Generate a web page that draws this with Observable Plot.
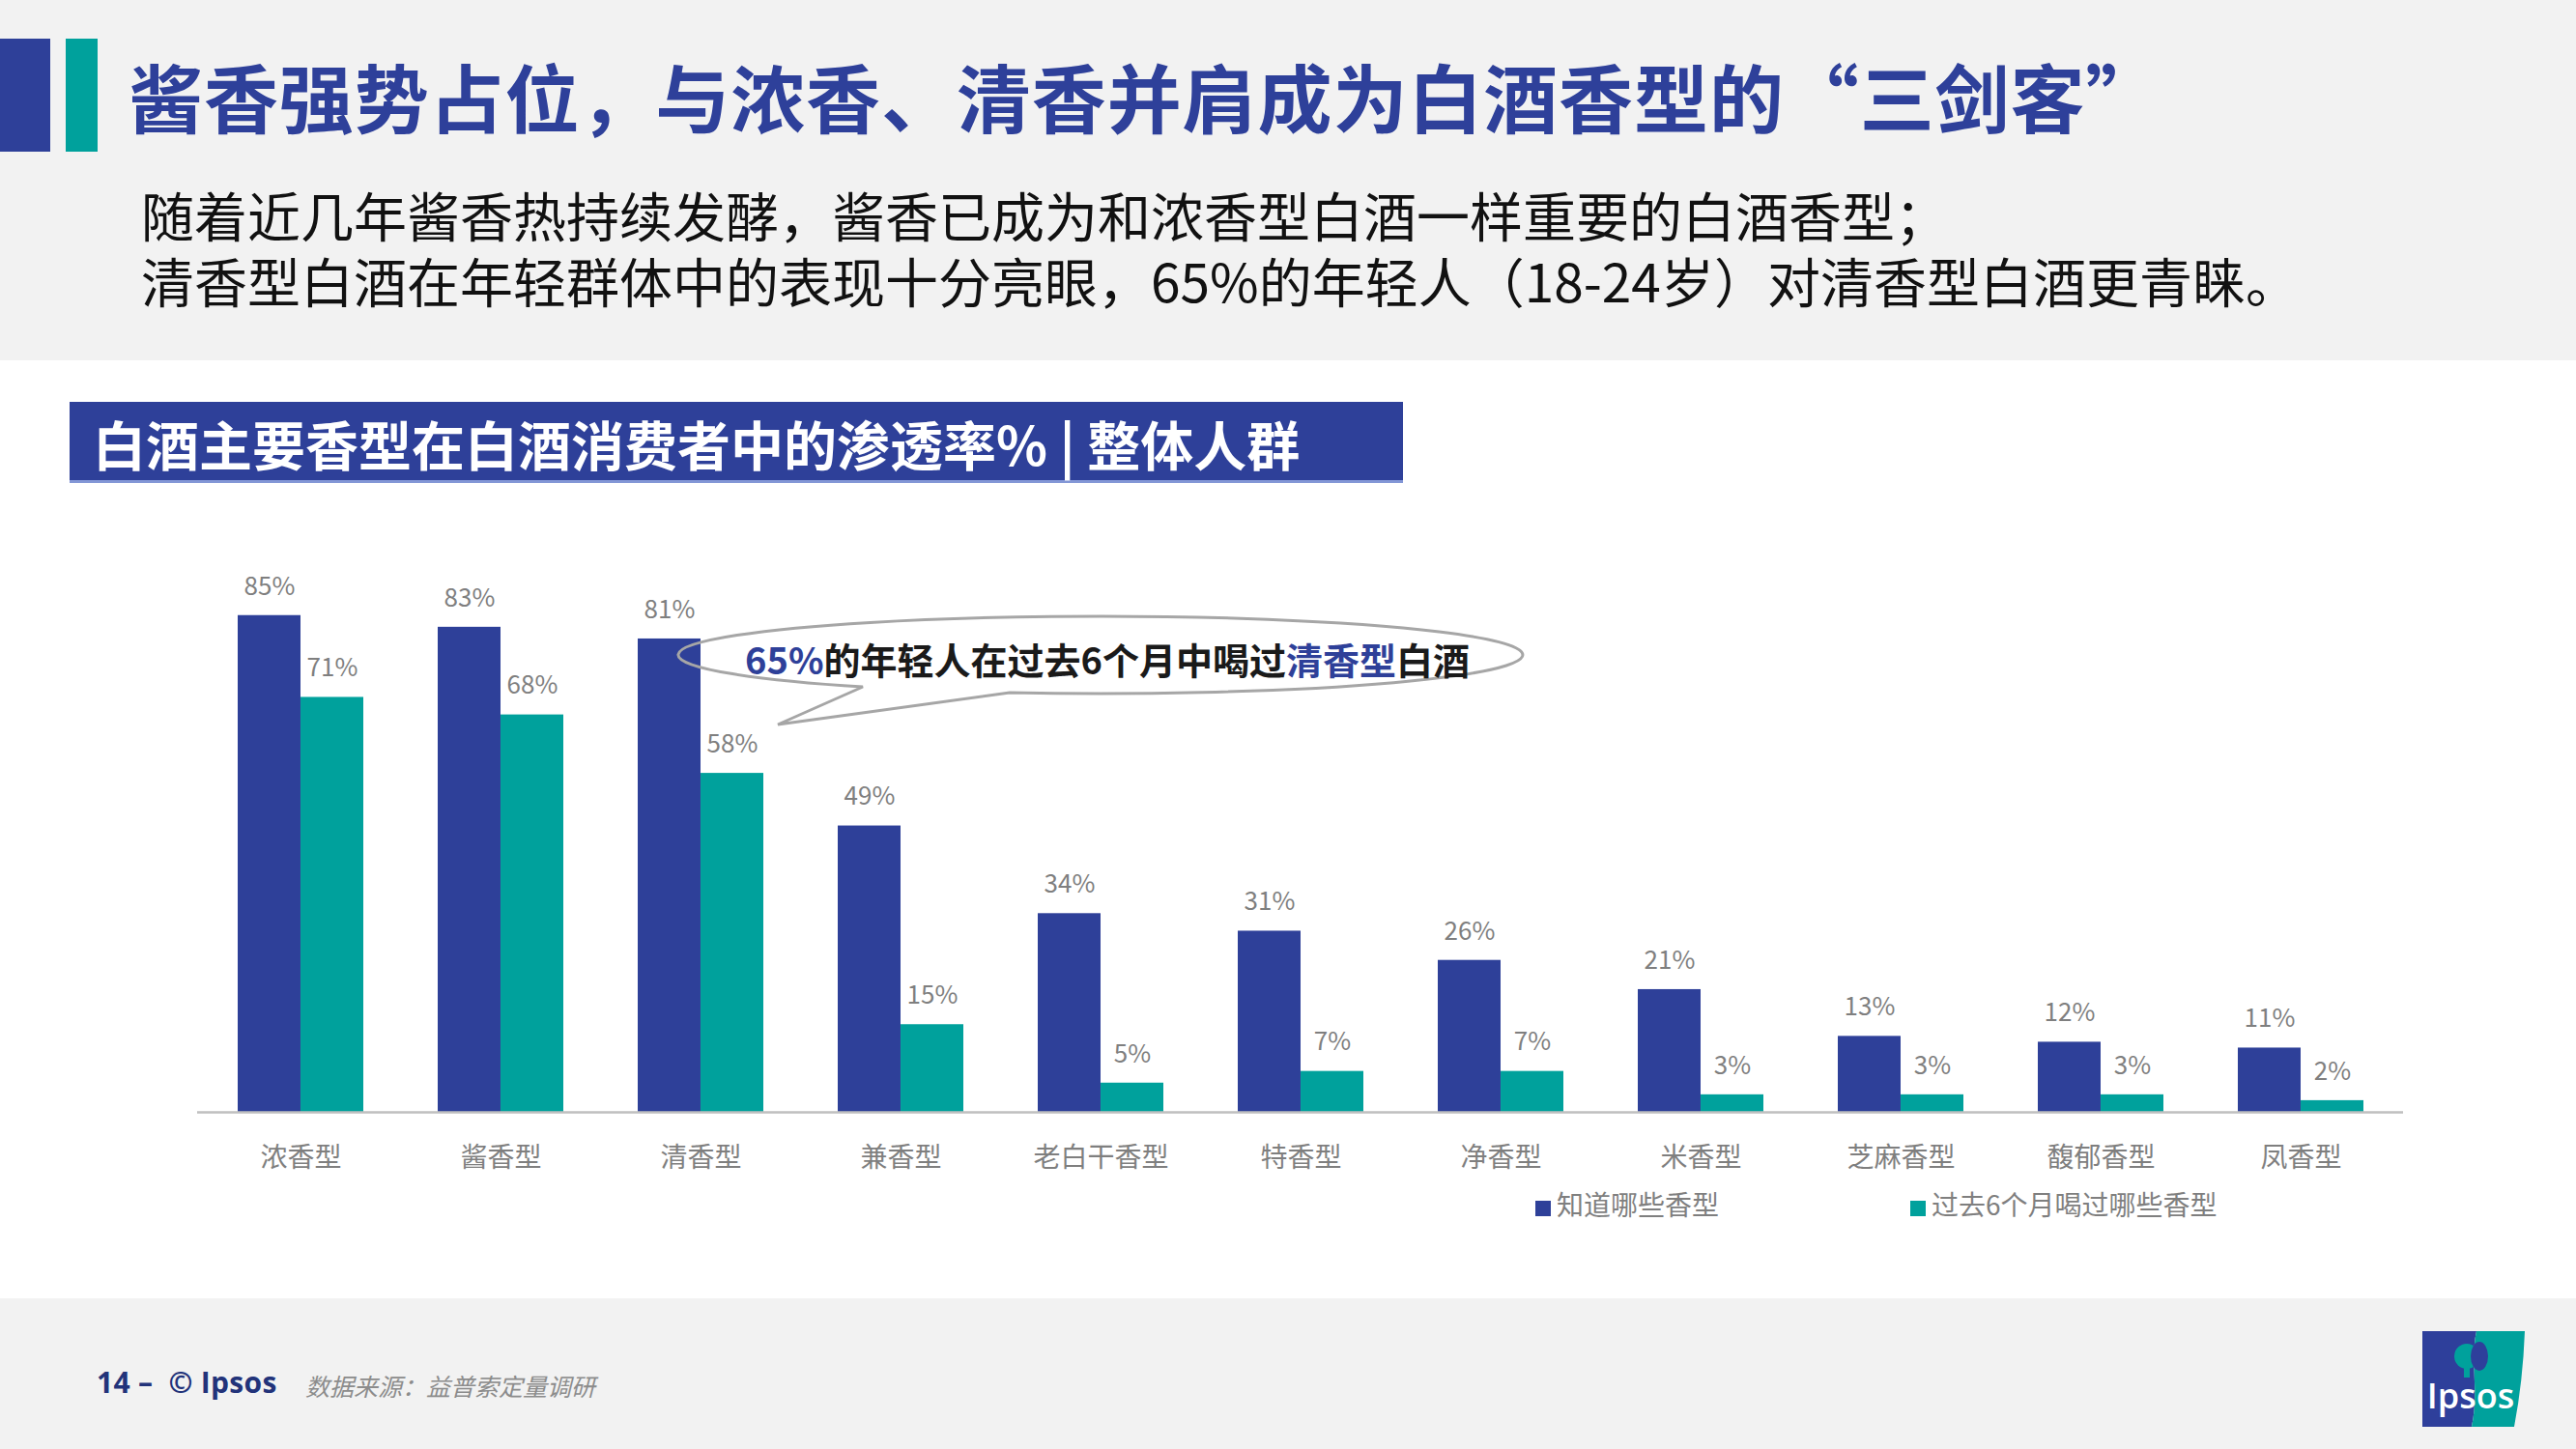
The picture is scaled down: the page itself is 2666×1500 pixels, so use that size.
<!DOCTYPE html>
<html>
<head>
<meta charset="utf-8">
<script src="https://cdn.jsdelivr.net/npm/d3@7"></script>
<script src="https://cdn.jsdelivr.net/npm/@observablehq/plot@0.6"></script>
<style>
  html, body { margin: 0; padding: 0; }
  body { width: 2666px; height: 1500px; position: relative; overflow: hidden; background: #ffffff;
         font-family: "Noto Sans CJK SC", "Noto Sans", sans-serif; }
  .abs { position: absolute; }
  #topband { left: 0; top: 0; width: 2666px; height: 373px; background: #f2f2f2; }
  #footband { left: 0; top: 1344px; width: 2666px; height: 156px; background: #f2f2f2; }
  #bar1 { left: 0; top: 40px; width: 52px; height: 117px; background: #2e4099; }
  #bar2 { left: 68px; top: 40px; width: 33px; height: 117px; background: #00a19c; }
  #title { left: 133px; top: 59px; font-size: 77px; line-height: 80px; font-weight: 700; color: #2e409a; white-space: nowrap; letter-spacing: 0.9px; }
  .sub { left: 146px; font-size: 55px; line-height: 60px; color: #111; white-space: nowrap; }
  #sub1 { top: 191px; }
  #sub2 { top: 259px; }
  #section { left: 72px; top: 416px; width: 1380px; height: 84px; background: #2e4099; border-bottom: 3px solid #8397d6;
             color: #fff; font-size: 55px; font-weight: 700; line-height: 84px; padding-left: 24px; box-sizing: border-box; white-space: nowrap; }
  #chart { left: 0; top: 526px; }
  #legend { left: 1589px; top: 1226px; font-size: 28px; line-height: 40px; color: #7f7f7f; white-space: nowrap; }
  .sw { display: inline-block; width: 16px; height: 16px; margin-right: 6px; vertical-align: -1px; }
  .li { display: inline-block; }
  #foot1 { left: 100px; top: 1411px; font-size: 30px; line-height: 40px; font-weight: 700; color: #22337a; white-space: nowrap; font-family: "Open Sans", "Noto Sans", sans-serif; letter-spacing: 0.3px; }
  #foot2 { left: 316px; top: 1414px; font-size: 25px; line-height: 40px; font-style: italic; color: #8c8c8c; white-space: nowrap; }
  #overlay { left: 0; top: 0; }
</style>
</head>
<body>
<div id="topband" class="abs"></div>
<div id="footband" class="abs"></div>
<div id="bar1" class="abs"></div>
<div id="bar2" class="abs"></div>
<div id="title" class="abs">酱香强势占位，与浓香、清香并肩成为白酒香型的“三剑客”</div>
<div id="sub1" class="abs sub">随着近几年酱香热持续发酵，酱香已成为和浓香型白酒一样重要的白酒香型；</div>
<div id="sub2" class="abs sub">清香型白酒在年轻群体中的表现十分亮眼，65%的年轻人（18-24岁）对清香型白酒更青睐。</div>
<div id="section" class="abs">白酒主要香型在白酒消费者中的渗透率% | 整体人群</div>
<div id="chart" class="abs"></div>
<div id="legend" class="abs"></div>
<div id="foot1" class="abs">14 –&nbsp; © Ipsos</div>
<div id="foot2" class="abs">数据来源：益普索定量调研</div>
<svg id="overlay" class="abs" width="2666" height="1500" xmlns="http://www.w3.org/2000/svg">
  <path d="M 893 711 A 437 40 0 1 1 1045 717 L 805 750 Z" fill="none" stroke="#a6a6a6" stroke-width="3"/>
  <text x="1146" y="681" text-anchor="middle" dominant-baseline="central" font-size="38" font-weight="700"
        font-family="Noto Sans CJK SC, sans-serif" fill="#1a1a1a"><tspan fill="#2e4099">65%</tspan>的年轻人在过去6个月中喝过<tspan fill="#2e4099">清香型</tspan>白酒</text>
  <g>
    <path d="M 2507 1378 L 2563 1378 C 2556 1410 2566 1440 2558 1477 L 2507 1477 Z" fill="#2e3f9b"/>
    <path d="M 2563 1378 L 2613 1378 Q 2611 1430 2602 1477 L 2558 1477 C 2566 1440 2556 1410 2563 1378 Z" fill="#00a19c"/>
    <circle cx="2553" cy="1404" r="13" fill="#00a19c"/>
    <rect x="2550" y="1412" width="6" height="14" fill="#00a19c"/>
    <ellipse cx="2566" cy="1404" rx="9" ry="15" fill="#2e3f9b"/>
    <text x="2557" y="1458" text-anchor="middle" font-size="36" font-weight="600" fill="#ffffff" font-family="Open Sans, sans-serif">Ipsos</text>
  </g>
</svg>
<script>
const categories = ["浓香型", "酱香型", "清香型", "兼香型", "老白干香型", "特香型", "净香型", "米香型", "芝麻香型", "馥郁香型", "凤香型"];
const knownPct = [85, 83, 81, 49, 34, 31, 26, 21, 13, 12, 11];
const drunkPct = [71, 68, 58, 15, 5, 7, 7, 3, 3, 3, 2];
const seriesNames = ["知道哪些香型", "过去6个月喝过哪些香型"];
const seriesColors = ["#2e4099", "#00a19c"];

const W = 2666, ML = 204, MR = 179;
const padIn = 0.374, padOut = 0.182;
const step = (W - ML - MR) / (categories.length - padIn + 2 * padOut);
const bw = step * (1 - padIn);
const half = bw / 2;

const rowsKnown = categories.map((c, i) => ({category: c, value: knownPct[i]}));
const rowsDrunk = categories.map((c, i) => ({category: c, value: drunkPct[i]}));

const chart = Plot.plot({
  width: W,
  height: 720,
  marginLeft: ML,
  marginRight: MR,
  marginTop: 20,
  marginBottom: 95,
  style: {fontFamily: "Noto Sans CJK SC, Noto Sans, sans-serif", background: "transparent", overflow: "visible"},
  x: {domain: categories, paddingInner: padIn, paddingOuter: padOut, label: null},
  y: {domain: [0, 100], axis: null},
  marks: [
    Plot.barY(rowsKnown, {x: "category", y: "value", fill: seriesColors[0], insetRight: half}),
    Plot.barY(rowsDrunk, {x: "category", y: "value", fill: seriesColors[1], insetLeft: half}),
    Plot.ruleY([0], {stroke: "#bfbfbf", strokeWidth: 2.5}),
    Plot.text(rowsKnown, {x: "category", y: "value", text: d => d.value + "%", dx: -half / 2, dy: -30, fontSize: 26, fill: "#7f7f7f"}),
    Plot.text(rowsDrunk, {x: "category", y: "value", text: d => d.value + "%", dx: half / 2, dy: -30, fontSize: 26, fill: "#7f7f7f"}),
    Plot.axisX({tickSize: 0, tickPadding: 37, fontSize: 28, fill: "#7f7f7f", label: null})
  ]
});
document.getElementById("chart").appendChild(chart);

const legend = document.getElementById("legend");
seriesNames.forEach((name, i) => {
  const item = document.createElement("span");
  item.className = "li";
  if (i > 0) item.style.marginLeft = "198px";
  const sw = document.createElement("span");
  sw.className = "sw";
  sw.style.background = seriesColors[i];
  item.appendChild(sw);
  item.appendChild(document.createTextNode(name));
  legend.appendChild(item);
});
</script>
</body>
</html>
